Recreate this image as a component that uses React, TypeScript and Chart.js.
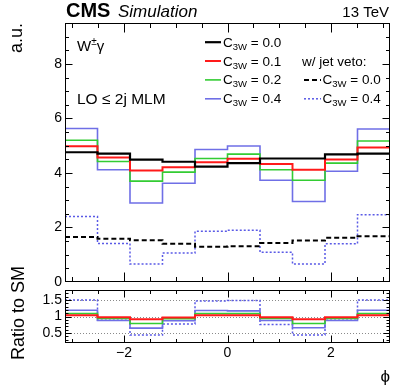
import React, { useEffect, useRef } from 'react';
import { Chart, registerables } from 'chart.js';

Chart.register(...registerables);

const W = 407;
const H = 391;
const FONT = '"Liberation Sans", Arial, Helvetica, sans-serif';

// ---- data ----
const BIN_EDGES = [-3.1416, -2.5133, -1.885, -1.2566, -0.6283, 0, 0.6283, 1.2566, 1.885, 2.5133, 3.1416];

const C3W_00 = [4.76, 4.71, 4.49, 4.41, 4.23, 4.36, 4.53, 4.53, 4.68, 4.71];
const C3W_01 = [4.98, 4.57, 4.09, 4.21, 4.39, 4.52, 4.33, 4.12, 4.49, 4.93];
const C3W_02 = [5.2, 4.42, 3.7, 4.03, 4.53, 4.69, 4.12, 3.73, 4.36, 5.17];
const C3W_04 = [5.63, 4.12, 2.9, 3.62, 4.86, 4.99, 3.73, 2.95, 4.06, 5.61];
const VETO_C3W_00 = [1.65, 1.59, 1.53, 1.4, 1.29, 1.31, 1.43, 1.52, 1.62, 1.68];
const VETO_C3W_04 = [2.4, 1.41, 0.66, 1.06, 1.86, 1.9, 1.09, 0.66, 1.4, 2.47];

const RATIO_01 = [1.04, 0.98, 0.92, 0.97, 1.04, 1.04, 0.98, 0.92, 0.98, 1.04];
const RATIO_02 = [1.09, 0.94, 0.79, 0.93, 1.09, 1.09, 0.94, 0.79, 0.94, 1.09];
const RATIO_04 = [1.19, 0.88, 0.65, 0.87, 1.18, 1.17, 0.88, 0.66, 0.88, 1.19];
const RATIO_VETO_04 = [1.5, 0.89, 0.44, 0.77, 1.47, 1.48, 0.76, 0.44, 0.89, 1.5];

const X_TICK_LABELS = [-2, 0, 2];
const Y_TICK_LABELS = [0, 2, 4, 6, 8];
const RATIO_TICK_LABELS = [0.5, 1, 1.5];
const RATIO_REF_LINES = [0.5, 1, 1.5];

const LEGEND_VALUES = ['0.0', '0.1', '0.2', '0.4'];
const VETO_LEGEND_VALUES = ['0.0', '0.4'];

// ---- styles ----
const STYLE = {
  c00: { color: '#000000', width: 2.2, dash: [] as number[] },
  c01: { color: '#ff1a1a', width: 2, dash: [] as number[] },
  c02: { color: '#33cc33', width: 1.6, dash: [] as number[] },
  c04: { color: '#6f6fe6', width: 1.6, dash: [] as number[] },
  v00: { color: '#000000', width: 2, dash: [5, 3] },
  v04: { color: '#5a5ae6', width: 1.5, dash: [2, 2] },
};

const toSteps = (values: number[]) =>
  values.map((v, i) => ({ x: BIN_EDGES[i], y: v })).concat([{ x: BIN_EDGES[BIN_EDGES.length - 1], y: values[values.length - 1] }]);

const ds = (values: number[], st: { color: string; width: number; dash: number[] }) => ({
  data: toSteps(values),
  borderColor: st.color,
  borderWidth: st.width,
  borderDash: st.dash,
  pointRadius: 0,
  fill: false,
  stepped: 'before' as const,
  tension: 0,
});

const fmt = (v: number) => (v < 0 ? '\u2212' + Math.abs(v) : String(v));
const near = (list: number[], v: number) => list.some((t) => Math.abs(t - v) < 1e-6);

type FrameCfg = {
  id: string;
  xMinor: number;
  xMajors: number[];
  yMinor: number;
  yMajors: number[];
  xMaj: number;
  xMin: number;
  yMaj: number;
  yMin: number;
  refLines?: number[];
};

const makeFramePlugin = (cfg: FrameCfg) => ({
  id: 'frame-' + cfg.id,
  beforeDatasetsDraw(chart: any) {
    if (!cfg.refLines) return;
    const { ctx, chartArea: a } = chart;
    const ys = chart.scales.y;
    ctx.save();
    ctx.strokeStyle = '#8a8a8a';
    ctx.lineWidth = 1;
    ctx.setLineDash([1, 2]);
    cfg.refLines.forEach((v) => {
      const py = Math.round(ys.getPixelForValue(v)) + 0.5;
      ctx.beginPath();
      ctx.moveTo(a.left, py);
      ctx.lineTo(a.right, py);
      ctx.stroke();
    });
    ctx.restore();
  },
  afterDatasetsDraw(chart: any) {
    const { ctx, chartArea: a } = chart;
    const xs = chart.scales.x;
    const ys = chart.scales.y;
    const L = Math.round(a.left) + 0.5;
    const R = Math.round(a.right) - 0.5;
    const T = Math.round(a.top) + 0.5;
    const B = Math.round(a.bottom) - 0.5;
    ctx.save();
    ctx.strokeStyle = '#000';
    ctx.lineWidth = 1;
    ctx.setLineDash([]);
    ctx.strokeRect(L, T, R - L, B - T);
    const line = (x1: number, y1: number, x2: number, y2: number) => {
      ctx.beginPath();
      ctx.moveTo(x1, y1);
      ctx.lineTo(x2, y2);
      ctx.stroke();
    };
    for (let k = Math.ceil(xs.min / cfg.xMinor - 1e-9); k * cfg.xMinor <= xs.max + 1e-9; k++) {
      const v = k * cfg.xMinor;
      if (Math.abs(v - xs.min) < 1e-6 || Math.abs(v - xs.max) < 1e-6) continue;
      const px = Math.round(xs.getPixelForValue(v)) + 0.5;
      const len = near(cfg.xMajors, v) ? cfg.xMaj : cfg.xMin;
      line(px, B, px, B - len);
      line(px, T, px, T + len);
    }
    for (let k = Math.ceil(ys.min / cfg.yMinor - 1e-9); k * cfg.yMinor <= ys.max + 1e-9; k++) {
      const v = k * cfg.yMinor;
      if (Math.abs(v - ys.min) < 1e-6 || Math.abs(v - ys.max) < 1e-6) continue;
      const py = Math.round(ys.getPixelForValue(v)) + 0.5;
      const len = near(cfg.yMajors, v) ? cfg.yMaj : cfg.yMin;
      line(L, py, L + len, py);
      line(R, py, R - len, py);
    }
    ctx.restore();
  },
});

const drawC3W = (ctx: CanvasRenderingContext2D, x: number, y: number, value: string) => {
  ctx.textAlign = 'left';
  ctx.font = `13.5px ${FONT}`;
  ctx.fillText('C', x, y);
  x += ctx.measureText('C').width;
  ctx.font = `9.5px ${FONT}`;
  ctx.fillText('3W', x, y + 3);
  x += ctx.measureText('3W').width;
  ctx.font = `13.5px ${FONT}`;
  ctx.fillText(' = ' + value, x, y);
};

const sample = (ctx: CanvasRenderingContext2D, x1: number, x2: number, y: number, st: { color: string; width: number; dash: number[] }) => {
  ctx.save();
  ctx.strokeStyle = st.color;
  ctx.lineWidth = st.width;
  ctx.setLineDash(st.dash);
  ctx.beginPath();
  ctx.moveTo(x1, y);
  ctx.lineTo(x2, y);
  ctx.stroke();
  ctx.restore();
};

const rotated = (ctx: CanvasRenderingContext2D, text: string, x: number, y: number, size: number) => {
  ctx.save();
  ctx.translate(x, y);
  ctx.rotate(-Math.PI / 2);
  ctx.textAlign = 'right';
  ctx.textBaseline = 'alphabetic';
  ctx.font = `${size}px ${FONT}`;
  ctx.fillText(text, 0, 0);
  ctx.restore();
};

const textPlugin = {
  id: 'cmsText',
  afterDraw(chart: any) {
    const ctx: CanvasRenderingContext2D = chart.ctx;
    ctx.save();
    ctx.fillStyle = '#000';
    ctx.textBaseline = 'alphabetic';
    ctx.textAlign = 'left';
    ctx.font = `bold 20px ${FONT}`;
    ctx.fillText('CMS', 66, 17);
    ctx.font = `italic 17px ${FONT}`;
    ctx.fillText('Simulation', 118, 17);
    ctx.textAlign = 'right';
    ctx.font = `15px ${FONT}`;
    ctx.fillText('13 TeV', 389, 17);

    rotated(ctx, 'a.u.', 22, 23, 18);
    rotated(ctx, 'Ratio to SM', 23.5, 266, 18);

    ctx.textAlign = 'right';
    ctx.font = `17px ${FONT}`;
    ctx.fillText('\u03D5', 390, 382);

    // process labels
    ctx.textAlign = 'left';
    let x = 77;
    ctx.font = `15px ${FONT}`;
    ctx.fillText('W', x, 51);
    x += ctx.measureText('W').width;
    ctx.font = `10px ${FONT}`;
    ctx.fillText('\u00B1', x, 45);
    x += ctx.measureText('\u00B1').width;
    ctx.font = `15px ${FONT}`;
    ctx.fillText('\u03B3', x, 51);
    ctx.font = `15.5px ${FONT}`;
    ctx.fillText('LO \u2264 2j MLM', 77, 103.5);

    // legend
    const rows = [46.7, 65.5, 84.4, 103.3];
    const styles = [STYLE.c00, STYLE.c01, STYLE.c02, STYLE.c04];
    LEGEND_VALUES.forEach((v, i) => {
      sample(ctx, 205, 221, rows[i] - 4.5, styles[i]);
      ctx.fillStyle = '#000';
      drawC3W(ctx, 223, rows[i], v);
    });
    ctx.font = `13.5px ${FONT}`;
    ctx.textAlign = 'left';
    ctx.fillText('w/ jet veto:', 302, rows[1]);
    const vStyles = [STYLE.v00, STYLE.v04];
    VETO_LEGEND_VALUES.forEach((v, i) => {
      sample(ctx, 304, 321, rows[i + 2] - 4.5, vStyles[i]);
      ctx.fillStyle = '#000';
      drawC3W(ctx, 322.5, rows[i + 2], v);
    });
    ctx.restore();
  },
};

const tickFont = { family: FONT, size: 14 };

export default function App() {
  const mainRef = useRef<HTMLCanvasElement>(null);
  const ratioRef = useRef<HTMLCanvasElement>(null);

  useEffect(() => {
    const main = new Chart(mainRef.current as HTMLCanvasElement, {
      type: 'line',
      data: {
        datasets: [
          ds(C3W_00, STYLE.c00),
          ds(C3W_01, STYLE.c01),
          ds(C3W_02, STYLE.c02),
          ds(C3W_04, STYLE.c04),
          ds(VETO_C3W_00, STYLE.v00),
          ds(VETO_C3W_04, STYLE.v04),
        ] as any,
      },
      options: {
        responsive: false,
        animation: false,
        events: [],
        layout: { padding: { left: 0, right: 17, top: 23, bottom: 109 } },
        plugins: { legend: { display: false }, tooltip: { enabled: false } },
        scales: {
          x: { type: 'linear', min: BIN_EDGES[0], max: BIN_EDGES[BIN_EDGES.length - 1], display: false },
          y: {
            type: 'linear',
            min: 0,
            max: 9.5,
            grid: { display: false, drawTicks: false },
            border: { display: false },
            ticks: {
              stepSize: 2,
              includeBounds: false,
              autoSkip: false,
              padding: 3,
              color: '#000',
              font: tickFont,
              callback: (v: any) => (near(Y_TICK_LABELS, Number(v)) ? fmt(Number(v)) : ''),
            },
            afterFit: (s: any) => {
              s.width = 65;
            },
          },
        },
      } as any,
      plugins: [
        makeFramePlugin({ id: 'main', xMinor: 0.5, xMajors: X_TICK_LABELS, yMinor: 0.5, yMajors: Y_TICK_LABELS, xMaj: 9, xMin: 4.5, yMaj: 7, yMin: 3.5 }),
        textPlugin,
      ],
    });

    const ratio = new Chart(ratioRef.current as HTMLCanvasElement, {
      type: 'line',
      data: {
        datasets: [
          ds(RATIO_01, STYLE.c01),
          ds(RATIO_02, STYLE.c02),
          ds(RATIO_04, STYLE.c04),
          ds(RATIO_VETO_04, STYLE.v04),
        ] as any,
      },
      options: {
        responsive: false,
        animation: false,
        events: [],
        layout: { padding: { left: 0, right: 17, top: 290, bottom: 28 } },
        plugins: { legend: { display: false }, tooltip: { enabled: false } },
        scales: {
          x: {
            type: 'linear',
            min: BIN_EDGES[0],
            max: BIN_EDGES[BIN_EDGES.length - 1],
            grid: { display: false, drawTicks: false },
            border: { display: false },
            ticks: {
              stepSize: 2,
              includeBounds: false,
              autoSkip: false,
              maxRotation: 0,
              padding: 2,
              color: '#000',
              font: tickFont,
              callback: (v: any) => (near(X_TICK_LABELS, Number(v)) ? fmt(Number(v)) : ''),
            },
            afterFit: (s: any) => {
              s.height = 20;
            },
          },
          y: {
            type: 'linear',
            min: 0.2,
            max: 1.8,
            grid: { display: false, drawTicks: false },
            border: { display: false },
            ticks: {
              stepSize: 0.5,
              includeBounds: false,
              autoSkip: false,
              padding: 3,
              color: '#000',
              font: tickFont,
              callback: (v: any) => {
                const n = Number(v);
                const t = RATIO_TICK_LABELS.find((r) => Math.abs(r - n) < 1e-6);
                return t === undefined ? '' : String(t);
              },
            },
            afterFit: (s: any) => {
              s.width = 65;
            },
          },
        },
      } as any,
      plugins: [
        makeFramePlugin({ id: 'ratio', xMinor: 0.5, xMajors: X_TICK_LABELS, yMinor: 0.1, yMajors: RATIO_TICK_LABELS, xMaj: 7, xMin: 3.5, yMaj: 6, yMin: 3, refLines: RATIO_REF_LINES }),
      ],
    });

    return () => {
      main.destroy();
      ratio.destroy();
    };
  }, []);

  return (
    <div style={{ position: 'fixed', left: 0, top: 0, width: W, height: H, background: '#fff' }}>
      <canvas ref={mainRef} width={W} height={H} style={{ position: 'absolute', left: 0, top: 0 }} />
      <canvas ref={ratioRef} width={W} height={H} style={{ position: 'absolute', left: 0, top: 0 }} />
    </div>
  );
}
